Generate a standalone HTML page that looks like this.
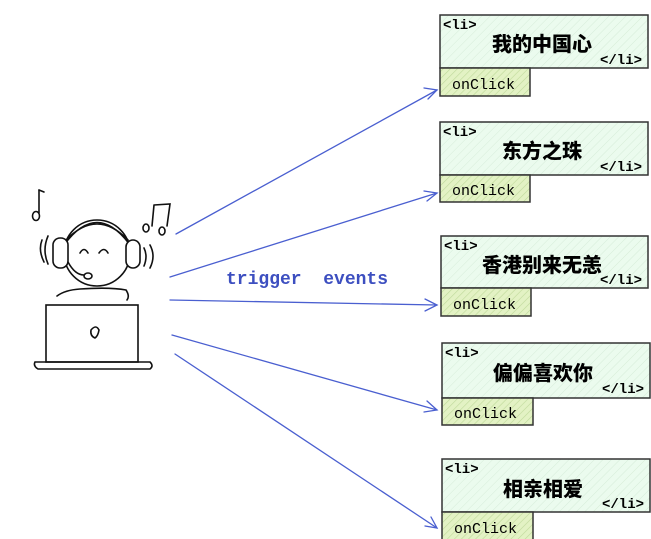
<!DOCTYPE html>
<html><head><meta charset="utf-8"><style>
html,body{margin:0;padding:0;background:#fff;width:651px;height:539px;overflow:hidden}
svg text{font-family:"Liberation Mono","Noto Sans CJK SC",monospace}
</style></head><body>
<svg width="651" height="539" viewBox="0 0 651 539" xmlns="http://www.w3.org/2000/svg">
<defs>
<pattern id="h1" width="6" height="6" patternUnits="userSpaceOnUse" patternTransform="rotate(45)"><rect width="6" height="6" fill="#ebfbee"/><line x1="0" y1="0" x2="0" y2="6" stroke="#d6ecd9" stroke-width="1"/></pattern>
<pattern id="h2" width="5" height="5" patternUnits="userSpaceOnUse" patternTransform="rotate(45)"><rect width="5" height="5" fill="#e3f2c4"/><line x1="0" y1="0" x2="0" y2="5" stroke="#bfd99a" stroke-width="1.2"/></pattern>
</defs>
<g stroke="#4a5fd0" stroke-width="1.3" fill="none" stroke-linecap="round">
<path d="M176 234 L437 90"/><path d="M424 88 L437 90 L428 99"/>
<path d="M170 277 L437 193"/><path d="M424 191 L437 193 L427 201"/>
<path d="M170 300 L437 305"/><path d="M425 299 L437 305 L425 311"/>
<path d="M172 335 L437 410"/><path d="M427 401 L437 410 L424 412"/>
<path d="M175 354 L437 528"/><path d="M431 517 L437 528 L425 526"/>
</g>
<text x="226" y="284" font-size="18" fill="#3d4fc0" font-weight="bold">trigger&#160;&#160;events</text>

<g font-weight="bold">
<g transform="translate(440,15)"><rect x="0" y="0" width="208" height="53" fill="url(#h1)" stroke="#333" stroke-width="1.5"/><text x="3" y="14" font-size="14">&lt;li&gt;</text><text x="52" y="36" font-size="20" font-weight="900" font-family="'Noto Sans CJK SC',sans-serif">我的中国心</text><text x="160" y="49" font-size="14">&lt;/li&gt;</text>
<rect x="0" y="53" width="90" height="28" fill="url(#h2)" stroke="#333" stroke-width="1.5"/><text x="12" y="74" font-size="15" font-weight="normal">onClick</text></g>
<g transform="translate(440,122)"><rect x="0" y="0" width="208" height="53" fill="url(#h1)" stroke="#333" stroke-width="1.5"/><text x="3" y="14" font-size="14">&lt;li&gt;</text><text x="62" y="36" font-size="20" font-weight="900" font-family="'Noto Sans CJK SC',sans-serif">东方之珠</text><text x="160" y="49" font-size="14">&lt;/li&gt;</text>
<rect x="0" y="53" width="90" height="27" fill="url(#h2)" stroke="#333" stroke-width="1.5"/><text x="12" y="73" font-size="15" font-weight="normal">onClick</text></g>
<g transform="translate(441,236)"><rect x="0" y="0" width="207" height="52" fill="url(#h1)" stroke="#333" stroke-width="1.5"/><text x="3" y="14" font-size="14">&lt;li&gt;</text><text x="41" y="36" font-size="20" font-weight="900" font-family="'Noto Sans CJK SC',sans-serif">香港别来无恙</text><text x="159" y="48" font-size="14">&lt;/li&gt;</text>
<rect x="0" y="52" width="90" height="28" fill="url(#h2)" stroke="#333" stroke-width="1.5"/><text x="12" y="73" font-size="15" font-weight="normal">onClick</text></g>
<g transform="translate(442,343)"><rect x="0" y="0" width="208" height="55" fill="url(#h1)" stroke="#333" stroke-width="1.5"/><text x="3" y="14" font-size="14">&lt;li&gt;</text><text x="51" y="37" font-size="20" font-weight="900" font-family="'Noto Sans CJK SC',sans-serif">偏偏喜欢你</text><text x="160" y="50" font-size="14">&lt;/li&gt;</text>
<rect x="0" y="55" width="91" height="27" fill="url(#h2)" stroke="#333" stroke-width="1.5"/><text x="12" y="75" font-size="15" font-weight="normal">onClick</text></g>
<g transform="translate(442,459)"><rect x="0" y="0" width="208" height="53" fill="url(#h1)" stroke="#333" stroke-width="1.5"/><text x="3" y="14" font-size="14">&lt;li&gt;</text><text x="61" y="37" font-size="20" font-weight="900" font-family="'Noto Sans CJK SC',sans-serif">相亲相爱</text><text x="160" y="49" font-size="14">&lt;/li&gt;</text>
<rect x="0" y="53" width="91" height="28" fill="url(#h2)" stroke="#333" stroke-width="1.5"/><text x="12" y="74" font-size="15" font-weight="normal">onClick</text></g>
</g>

<g stroke="#111" stroke-width="1.6" fill="none" stroke-linecap="round">
<circle cx="97" cy="253" r="33" fill="#fff"/>
<path d="M64 245 Q97 200 130 245"/>
<path d="M66 240 Q97 208 128 240"/>
<rect x="53" y="238" width="15" height="30" rx="7" fill="#fff"/>
<rect x="126" y="240" width="14" height="28" rx="7" fill="#fff"/>
<path d="M42 240 Q38 250 44 262"/><path d="M48 236 Q42 250 48 264"/>
<path d="M150 245 Q156 256 150 268"/><path d="M144 248 Q148 256 144 266"/>
<path d="M80 253 Q84 246 88 253"/><path d="M99 253 Q104 246 108 253"/>
<path d="M68 262 Q75 275 84 275"/><ellipse cx="88" cy="276" rx="4" ry="3"/>
<path d="M57 296 Q65 290 80 289 Q110 287 126 290 Q130 296 127 300"/>
<rect x="46" y="305" width="92" height="57" fill="#fff"/>
<path d="M35 362 L150 362 Q154 366 150 369 L38 369 Q33 366 35 362"/>
<path d="M91 330 Q96 324 99 330 Q98 336 95 338 Q90 336 91 330"/>
<path d="M39 190 L39 213"/><path d="M39 190 L44 192"/><ellipse cx="36" cy="216" rx="3.5" ry="4.5"/>
<path d="M154 205 L152 226 M154 205 L170 204 L167 226"/><ellipse cx="146" cy="228" rx="3" ry="4"/><ellipse cx="162" cy="231" rx="3" ry="4"/>
</g>
</svg>
</body></html>
